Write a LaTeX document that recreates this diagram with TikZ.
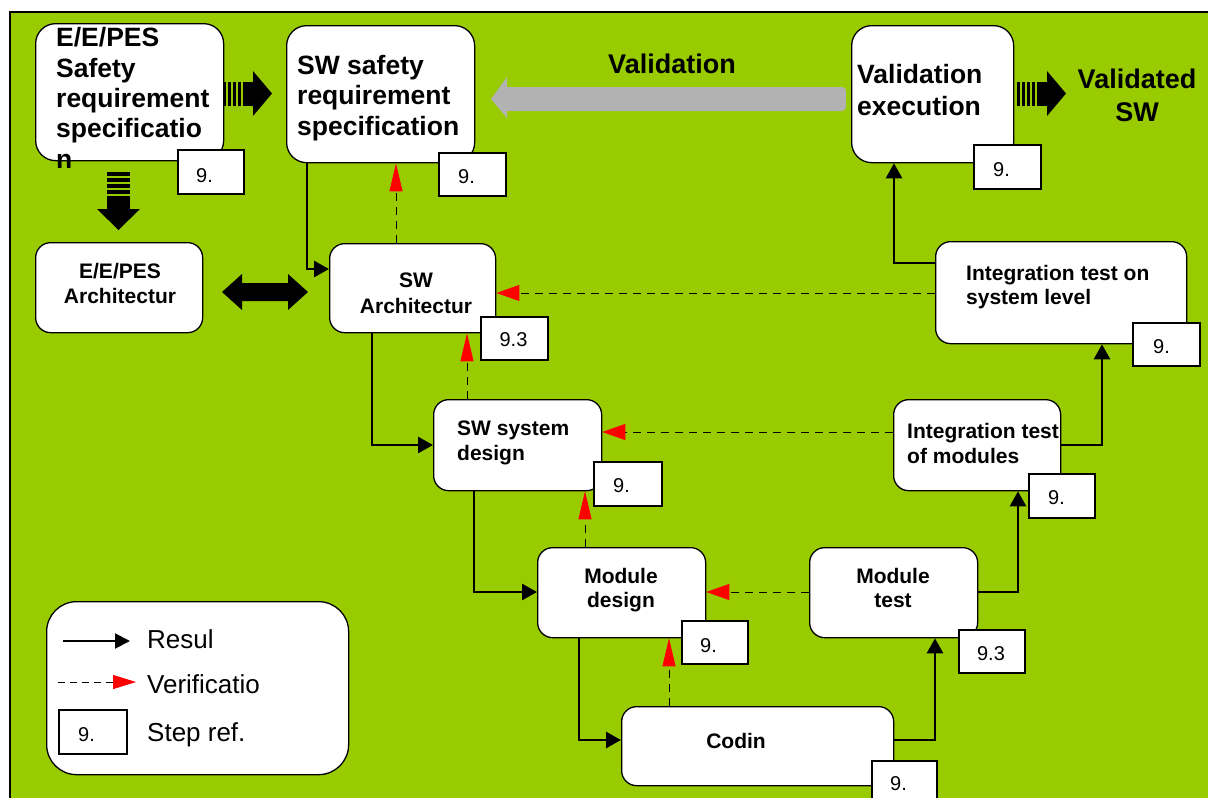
\documentclass[tikz,border=0pt]{standalone}
\usepackage{fontspec}
\setmainfont{Liberation Sans}
\usetikzlibrary{arrows.meta}
\definecolor{bggreen}{RGB}{153,204,0}
\definecolor{valgray}{RGB}{178,178,178}
\newcommand{\stripeR}[2]{%
  \begin{scope}[shift={(#1,#2)}]
    \fill (0,-12) rectangle (3,12);
    \fill (5,-12) rectangle (8,12);
    \fill (10,-12) rectangle (13,12);
    \fill (15,-12) rectangle (18,12);
    \fill (20,-12) rectangle (30.5,12);
    \fill (30,-22.5) -- (49,0) -- (30,22.5) -- cycle;
  \end{scope}}
\begin{document}
\begin{tikzpicture}[x=1pt,y=-1pt,
  box/.style={draw, line width=1.3pt, fill=white, rounded corners=15pt, inner sep=0pt, anchor=north west},
  bigbox/.style={box, rounded corners=20pt},
  stepref/.style={draw, line width=2pt, fill=white, inner sep=0pt, anchor=north west},
  lbl/.style={inner sep=0pt, font=\fontsize{21}{25}\selectfont\bfseries},
  toplbl/.style={inner sep=0pt, font=\fontsize{26.5}{30.3}\selectfont\bfseries},
  num/.style={inner sep=0pt, font=\fontsize{20}{24}\selectfont},
  legtxt/.style={inner sep=0pt, anchor=base west, font=\fontsize{26}{30}\selectfont},
  res/.style={line width=2.7pt, -{Triangle[length=15pt,width=16pt]}},
  verv/.style={line width=0.9pt, dash pattern=on 8pt off 6pt, -{Triangle[length=28pt,width=13pt,color=red,fill=red]}},
  verh/.style={line width=0.9pt, dash pattern=on 8pt off 6pt, -{Triangle[length=23pt,width=16pt,color=red,fill=red]}},
]
\useasboundingbox (0,0) rectangle (1208,798);
\clip (0,0) rectangle (1208,798);
% frame
\draw[line width=2pt, fill=bggreen] (10,12) rectangle (1240,830);

% main boxes
\node[bigbox, minimum width=188pt, minimum height=137pt] (A) at (35,23) {};
\node[bigbox, minimum width=188pt, minimum height=137pt] (B) at (286,25) {};
\node[bigbox, minimum width=162pt, minimum height=137pt] (VE) at (851,25) {};
\node[box, minimum width=167pt, minimum height=90pt] (EA) at (35,242) {};
\node[box, minimum width=166pt, minimum height=89pt] (SWA) at (329,243) {};
\node[box, minimum width=251pt, minimum height=102pt] (IS) at (935,241) {};
\node[box, minimum width=168pt, minimum height=91pt] (SSD) at (433,399) {};
\node[box, minimum width=167pt, minimum height=91pt] (IM) at (893,399) {};
\node[box, minimum width=168pt, minimum height=90pt] (MD) at (537,547) {};
\node[box, minimum width=168pt, minimum height=90pt] (MT) at (809,547) {};
\node[box, minimum width=272pt, minimum height=79pt] (COD) at (621,706) {};

% texts (base anchor = baseline of last line)
\node[toplbl, anchor=base west, align=left] (At) at (56,168) {E/E/PES\\Safety\\requirement\\specificatio\\n};
\node[toplbl, anchor=base west, align=left] (Bt) at (297,135) {SW safety\\requirement\\specification};
\node[toplbl, anchor=base west, align=left, font=\fontsize{26.5}{32}\selectfont\bfseries] (VEt) at (857,115) {Validation\\execution};
\node[toplbl, anchor=base, align=center, font=\fontsize{27}{33}\selectfont\bfseries] (VSW) at (1137,121) {Validated\\SW};
\node[toplbl, anchor=base, font=\fontsize{27}{33}\selectfont\bfseries] (VAL) at (672,73) {Validation};
\node[lbl, anchor=base, align=center] (EAt) at (120,303) {E/E/PES\\Architectur};
\node[lbl, anchor=base, align=center, font=\fontsize{21}{26}\selectfont\bfseries] (SWAt) at (416,313) {SW\\Architectur};
\node[lbl, anchor=base west, align=left, font=\fontsize{21}{24}\selectfont\bfseries] (ISt) at (966,304) {Integration test on\\system level};
\node[lbl, anchor=base west, align=left] (SSDt) at (457,460) {SW system\\design};
\node[lbl, anchor=base west, align=left] (IMt) at (907,463) {Integration test\\of modules};
\node[lbl, anchor=base, align=center, font=\fontsize{21}{24}\selectfont\bfseries] (MDt) at (621,607) {Module\\design};
\node[lbl, anchor=base, align=center, font=\fontsize{21}{24}\selectfont\bfseries] (MTt) at (893,607) {Module\\test};
\node[lbl, anchor=base] (CODt) at (736,748) {Codin};

% striped and block arrows
\stripeR{223}{93.5}
\stripeR{1017}{93.5}
\begin{scope}[shift={(118.5,172)}]
  \fill (-11.5,0) rectangle (11.5,4);
  \fill (-11.5,6) rectangle (11.5,10);
  \fill (-11.5,12) rectangle (11.5,16);
  \fill (-11.5,18) rectangle (11.5,22);
  \fill (-11.5,24) rectangle (11.5,37.5);
  \fill (-21.5,37) -- (0,58) -- (21.5,37) -- cycle;
\end{scope}
\fill (222,292) -- (242,274) -- (242,283) -- (288,283) -- (288,274) -- (308,292)
  -- (288,310) -- (288,301) -- (242,301) -- (242,310) -- cycle;
\fill[valgray, rounded corners=4pt] (500,87) -- (846,87) -- (846,111) -- (500,111) -- cycle;
\fill[valgray] (491,99) -- (507,77) -- (507,118) -- cycle;

% result connectors
\draw[res] (B.south -| 307,0) |- (SWA.west |- 0,269);
\draw[res] (SWA.south -| 372,0) |- (SSD.west |- 0,445);
\draw[res] (SSD.south -| 474,0) |- (MD.west |- 0,592);
\draw[res] (MD.south -| 579,0) |- (COD.west |- 0,740);
\draw[res] (COD.east |- 0,740) -| (MT.south -| 935,0);
\draw[res] (MT.east |- 0,592) -| (IM.south -| 1018,0);
\draw[res] (IM.east |- 0,445) -| (IS.south -| 1102,0);
\draw[res] (IS.west |- 0,263) -| (VE.south -| 894,0);

% verification connectors
\draw[verv] (SWA.north -| 396,0) -- (B.south -| 396,0);
\draw[verv] (SSD.north -| 467,0) -- (SWA.south -| 467,0);
\draw[verv] (MD.north -| 585,0) -- (SSD.south -| 585,0);
\draw[verv] (COD.north -| 669,0) -- (MD.south -| 669,0);
\draw[verh] (IS.west |- 0,293) -- (SWA.east |- 0,293);
\draw[verh] (IM.west |- 0,432) -- (SSD.east |- 0,432);
\draw[verh] (MT.west |- 0,592) -- (MD.east |- 0,592);

% step reference boxes
\node[stepref, minimum width=66pt, minimum height=44pt] (As) at (177,149) {};
\node[num, anchor=base west] (Asn) at (196,182) {9.};
\node[stepref, minimum width=67pt, minimum height=43pt] (Bs) at (438,152) {};
\node[num, anchor=base west] (Bsn) at (458,183) {9.};
\node[stepref, minimum width=67pt, minimum height=44pt] (VEs) at (973,144) {};
\node[num, anchor=base west] (VEsn) at (993,176) {9.};
\node[stepref, minimum width=67pt, minimum height=43pt] (SWAs) at (480,316) {};
\node[num, anchor=base] (SWAsn) at (513.5,346) {9.3};
\node[stepref, minimum width=67pt, minimum height=43pt] (ISs) at (1132,322) {};
\node[num, anchor=base west] (ISsn) at (1153,353) {9.};
\node[stepref, minimum width=68pt, minimum height=44pt] (SSDs) at (593,461) {};
\node[num, anchor=base west] (SSDsn) at (613,492) {9.};
\node[stepref, minimum width=66pt, minimum height=44pt] (IMs) at (1028,473) {};
\node[num, anchor=base west] (IMsn) at (1048,504) {9.};
\node[stepref, minimum width=66pt, minimum height=43pt] (MDs) at (681,620) {};
\node[num, anchor=base west] (MDsn) at (700,652) {9.};
\node[stepref, minimum width=66pt, minimum height=43pt] (MTs) at (958,629) {};
\node[num, anchor=base] (MTsn) at (991,660) {9.3};
\node[stepref, minimum width=65pt, minimum height=44pt] (CODs) at (871,760) {};
\node[num, anchor=base west] (CODsn) at (890,790) {9.};

% legend
\node[box, rounded corners=30pt, minimum width=302pt, minimum height=173pt] (LEG) at (46,601) {};
\coordinate (l1a) at (63,641);
\coordinate (l1b) at (130,641);
\draw[line width=2pt, -{Triangle[length=15pt,width=15pt]}] (l1a) -- (l1b);
\coordinate (l2a) at (58,682);
\coordinate (l2b) at (136,682);
\draw[line width=0.9pt, dash pattern=on 7pt off 5pt, -{Triangle[length=23pt,width=14pt,color=red,fill=red]}] (l2a) -- (l2b);
\node[stepref, minimum width=68pt, minimum height=44pt] (LGs) at (58,709) {};
\node[num, anchor=base west] (LGsn) at (78,741) {9.};
\node[legtxt] (L1) at (147,648) {Resul};
\node[legtxt] (L2) at (147,693) {Verificatio};
\node[legtxt] (L3) at (147,741) {Step ref.};
\end{tikzpicture}
\end{document}
